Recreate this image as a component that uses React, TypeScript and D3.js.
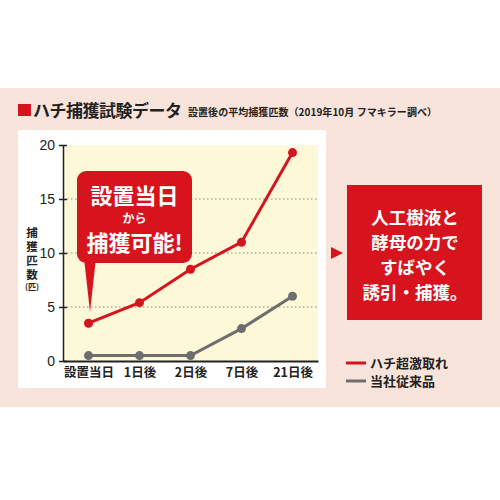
import { useEffect, useMemo, useRef } from 'react';
import * as d3 from 'd3';

const days = ['設置当日', '1日後', '2日後', '7日後', '21日後'];
const hachiValues = [3.5, 5.4, 8.5, 11.0, 19.3];
const oldValues = [0.5, 0.5, 0.5, 3.0, 6.0];
const yTicks = [0, 5, 10, 15, 20];
const gridTicks = [5, 10, 15];
const seriesNames = ['ハチ超激取れ', '当社従来品'];
const calloutLines = ['設置当日', 'から', '捕獲可能!'];
const boxLines = ['人工樹液と', '酵母の力で', 'すばやく', '誘引・捕獲。'];
const yLabel = '捕獲匹数';
const yUnit = '(匹)';

const RED = '#d7141e';
const GRAY = '#6e6e6e';
const FONT = '"Noto Sans CJK JP", "Noto Sans", sans-serif';

const plot = { left: 63, right: 318, top: 145, bottom: 361 };

export default function App() {
    const xAxisEl = useRef<SVGGElement>(null);
    const yAxisEl = useRef<SVGGElement>(null);

    const xScale = useMemo(
        () => d3.scalePoint<string>().domain(days).range([plot.left, plot.right]).padding(0.5),
        []
    );
    const yScale = useMemo(
        () => d3.scaleLinear().domain([0, 20]).range([plot.bottom, plot.top]),
        []
    );

    const line = d3
        .line<number>()
        .x((_, i) => xScale(days[i])!)
        .y((d) => yScale(d));

    const series = [
        { name: seriesNames[0], values: hachiValues, color: RED },
        { name: seriesNames[1], values: oldValues, color: GRAY },
    ];

    useEffect(() => {
        if (xAxisEl.current) {
            const g = d3.select(xAxisEl.current);
            g.call(d3.axisBottom(xScale).tickSize(0).tickPadding(7));
            g.select('.domain').attr('stroke', '#222').attr('stroke-width', 2);
            g.selectAll('text')
                .attr('font-family', FONT)
                .attr('font-size', 12.5)
                .attr('font-weight', 700)
                .attr('fill', '#222');
        }
        if (yAxisEl.current) {
            const g = d3.select(yAxisEl.current);
            g.call(
                d3.axisLeft(yScale).tickValues(yTicks).tickSizeOuter(0).tickSizeInner(4).tickPadding(4)
            );
            g.select('.domain').attr('stroke', '#222').attr('stroke-width', 1.5);
            g.selectAll('.tick line').attr('x1', 4).attr('stroke', '#222').attr('stroke-width', 1.5);
            g.selectAll('text')
                .attr('font-family', '"Liberation Sans", Arial, sans-serif')
                .attr('font-size', 14)
                .attr('fill', '#222');
        }
    }, [xScale, yScale]);

    return (
        <svg
            width={500}
            height={500}
            viewBox="0 0 500 500"
            style={{ position: 'absolute', left: 0, top: 0, background: '#fff' }}
            fontFamily={FONT}
        >
            <rect x={0} y={88} width={500} height={319} fill="#f9e4db" />

            {/* title */}
            <rect x={18} y={104} width={13} height={12} fill={RED} />
            <text x={33} y={117} fontSize={17} fontWeight={700} fill="#222" textLength={149}>
                ハチ捕獲試験データ
            </text>
            <text x={188} y={116} fontSize={10} fontWeight={700} fill="#222" textLength={249}>
                設置後の平均捕獲匹数（2019年10月 フマキラー調べ）
            </text>

            {/* chart panel */}
            <rect x={18} y={130} width={308} height={258} fill="#fff" />
            <rect
                x={plot.left}
                y={plot.top}
                width={plot.right - plot.left}
                height={plot.bottom - plot.top}
                fill="#fdf8d8"
            />
            {gridTicks.map((t) => (
                <line
                    key={t}
                    x1={plot.left}
                    x2={plot.right}
                    y1={yScale(t)}
                    y2={yScale(t)}
                    stroke="#888"
                    strokeWidth={1.2}
                    strokeDasharray="1.5 2.5"
                />
            ))}

            {series.map((s) => (
                <g key={s.name}>
                    <path d={line(s.values)!} fill="none" stroke={s.color} strokeWidth={3} />
                    {s.values.map((v, i) => (
                        <circle key={i} cx={xScale(days[i])} cy={yScale(v)} r={4.5} fill={s.color} />
                    ))}
                </g>
            ))}

            <g ref={xAxisEl} transform={`translate(0, ${plot.bottom})`} />
            <g ref={yAxisEl} transform={`translate(${plot.left}, 0)`} />

            {/* y label, vertical */}
            <text
                x={32}
                y={227}
                fontSize={11.5}
                fontWeight={700}
                fill="#222"
                letterSpacing={2.5}
                style={{ writingMode: 'vertical-rl', textOrientation: 'upright' }}
            >
                {yLabel}
            </text>
            <text x={32} y={290} fontSize={8} fontWeight={700} fill="#222" textAnchor="middle">
                {yUnit}
            </text>

            {/* callout */}
            <path d="M84,258 L90,312 L96,258 Z" fill={RED} />
            <rect x={77} y={171} width={115} height={92} rx={9} fill={RED} />
            <text x={134.5} y={204} fontSize={22} fontWeight={700} fill="#fff" textAnchor="middle">
                {calloutLines[0]}
            </text>
            <text x={134.5} y={223} fontSize={12} fontWeight={700} fill="#fff" textAnchor="middle">
                {calloutLines[1]}
            </text>
            <text x={134.5} y={251} fontSize={22} fontWeight={700} fill="#fff" textAnchor="middle">
                {calloutLines[2]}
            </text>

            {/* right box */}
            <path d="M331,247 L343,253 L331,259 Z" fill={RED} />
            <rect x={347} y={185} width={135} height={135} fill={RED} />
            {boxLines.map((t, i) => (
                <text
                    key={t}
                    x={415}
                    y={224 + i * 25}
                    fontSize={17.5}
                    fontWeight={700}
                    fill="#fff"
                    textAnchor="middle"
                >
                    {t}
                </text>
            ))}

            {/* legend */}
            {series.map((s, i) => (
                <g key={s.name} transform={`translate(346, ${363 + i * 18})`}>
                    <line x1={0} x2={20} y1={0} y2={0} stroke={s.color} strokeWidth={3} />
                    <text x={24} y={4.5} fontSize={13} fontWeight={700} fill="#222">
                        {s.name}
                    </text>
                </g>
            ))}
        </svg>
    );
}
